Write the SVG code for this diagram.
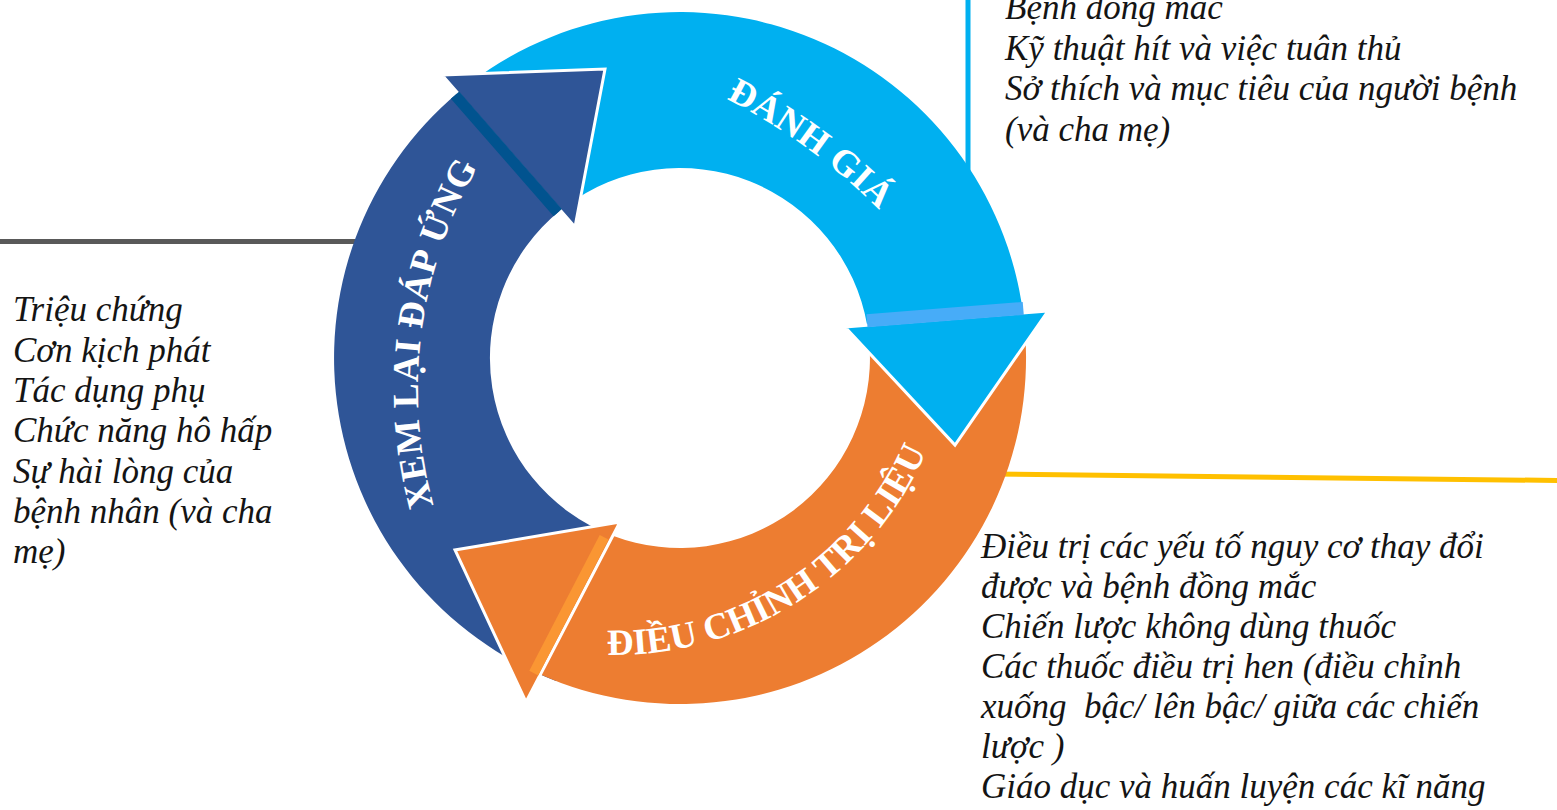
<svg xmlns="http://www.w3.org/2000/svg" width="1557" height="810" viewBox="0 0 1557 810">
  <style>
    .band-dark { fill: #2F5597; }
    .band-blue { fill: #00B0F0; }
    .band-orange { fill: #ED7D31; }
    .head { stroke: #FFFFFF; stroke-width: 3; stroke-linejoin: miter; }
    .label { font-family: "Liberation Serif", "Times New Roman", serif; font-weight: bold; font-size: 37px; fill: #FFFFFF; }
    .note { font-family: "Liberation Serif", "Times New Roman", serif; font-style: italic; font-size: 35px; fill: #141414; }
    .link { fill: none; stroke-width: 5; }
  </style>
  <defs>
    <!-- baselines for the curved step labels -->
    <path id="arc-xem-lai" d="M 477.2 610 A 442 442 0 0 1 547.5 76.5"/>
    <path id="arc-danh-gia" d="M 608.3 53.6 A 604 604 0 0 1 958.6 308.1"/>
    <path id="arc-dieu-chinh" d="M 556 649.8 A 340 340 0 0 0 943.4 403"/>
  </defs>

  <rect width="1557" height="810" fill="#FFFFFF"/>

  <!-- leader lines from the cycle to the note blocks -->
  <g id="connectors">
    <line class="link" x1="0" y1="241.5" x2="360" y2="241.5" stroke="#595959"/>
    <line class="link" x1="968" y1="0" x2="968" y2="172" stroke="#00B0F0"/>
    <line class="link" x1="990" y1="474" x2="1557" y2="480.5" stroke="#FFC000"/>
  </g>

  <!-- ring segments (centre 680,358; radii 190 / 346) -->
  <g id="xem-lai-dap-ung">
    <path class="band-dark" d="M 556 681 A 346 346 0 0 1 457.6 93.0 L 560.4 210.3 A 190 190 0 0 0 611.9 535.4 Z"/>
  </g>
  <g id="danh-gia">
    <path class="band-blue" d="M 471.8 81.7 A 346 346 0 0 1 1023.0 312.8 L 867.2 325.3 A 190 190 0 0 0 565.7 206.3 Z"/>
  </g>
  <g id="dieu-chinh-tri-lieu">
    <path class="band-orange" d="M 1025.2 333.9 A 346 346 0 0 1 540.4 674.6 L 612.8 535.7 A 190 190 0 0 0 869.5 344.7 Z"/>
  </g>

  <!-- arrowheads with their neck stripes -->
  <g id="arrowheads">
    <g id="xem-lai-dap-ung-head">
      <path class="head band-dark" d="M 442 75 L 605 69 L 575 227 Z"/>
      <path fill="#01538F" d="M 450.9 98.8 L 553.6 216.2 L 561.9 209.0 L 459.2 91.6 Z"/>
    </g>
    <g id="danh-gia-head">
      <path class="head band-blue" d="M 845 327 L 1048 311 L 955 445 Z"/>
      <path fill="#47ACF8" d="M 866.4 314.2 L 1022.7 301.9 L 1023.8 314.9 L 867.5 327.2 Z"/>
    </g>
    <g id="dieu-chinh-tri-lieu-head">
      <path class="head band-orange" d="M 620 522 L 526 702 L 455 550 Z"/>
      <path fill="#FA9633" d="M 608.6 539.5 L 599.7 534.9 L 529.3 670.8 L 538.2 675.4 Z"/>
    </g>
  </g>

  <!-- step labels -->
  <g id="step-labels">
    <text class="label" style="letter-spacing:0.8px"><textPath href="#arc-xem-lai" startOffset="50%" text-anchor="middle">XEM LẠI ĐÁP ỨNG</textPath></text>
    <text class="label" style="letter-spacing:0.3px"><textPath href="#arc-danh-gia" startOffset="50%" text-anchor="middle">ĐÁNH GIÁ</textPath></text>
    <text class="label"><textPath href="#arc-dieu-chinh" startOffset="50%" text-anchor="middle">ĐIỀU CHỈNH TRỊ LIỆU</textPath></text>
  </g>

  <!-- note blocks -->
  <g id="notes-danh-gia">
    <text class="note" x="1005" y="19">Bệnh đồng mắc</text>
    <text class="note" x="1005" y="59.5">Kỹ thuật hít và việc tuân thủ</text>
    <text class="note" x="1005" y="100">Sở thích và mục tiêu của người bệnh</text>
    <text class="note" x="1005" y="140.5">(và cha mẹ)</text>
  </g>
  <g id="notes-xem-lai">
    <text class="note" x="13" y="321">Triệu chứng</text>
    <text class="note" x="13" y="361.5">Cơn kịch phát</text>
    <text class="note" x="13" y="402">Tác dụng phụ</text>
    <text class="note" x="13" y="442">Chức năng hô hấp</text>
    <text class="note" x="13" y="482.5">Sự hài lòng của</text>
    <text class="note" x="13" y="523">bệnh nhân (và cha</text>
    <text class="note" x="13" y="563">mẹ)</text>
  </g>
  <g id="notes-dieu-chinh">
    <text class="note" x="981" y="557.5">Điều trị các yếu tố nguy cơ thay đổi</text>
    <text class="note" x="981" y="597.5">được và bệnh đồng mắc</text>
    <text class="note" x="981" y="638">Chiến lược không dùng thuốc</text>
    <text class="note" x="981" y="678">Các thuốc điều trị hen (điều chỉnh</text>
    <text class="note" x="981" y="718" style="white-space:pre">xuống  bậc/ lên bậc/ giữa các chiến</text>
    <text class="note" x="981" y="758">lược )</text>
    <text class="note" x="981" y="798">Giáo dục và huấn luyện các kĩ năng</text>
  </g>
</svg>
